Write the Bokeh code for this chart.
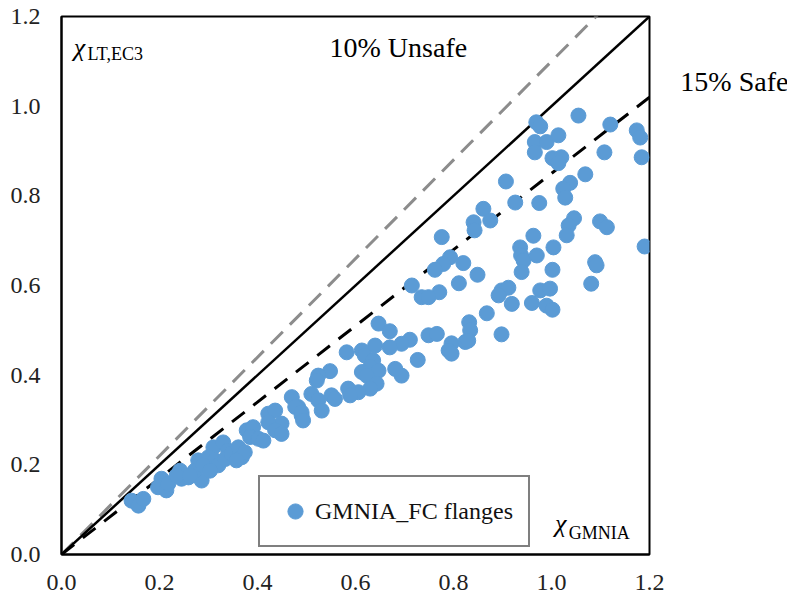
from bokeh.plotting import figure
from bokeh.models import Range1d, FixedTicker, Label, Legend, LegendItem, PrintfTickFormatter
from bokeh.embed import file_html
from bokeh.resources import INLINE

# ---- data ----
chi_gmnia = [
    0.969, 0.977, 1.055, 1.120, 1.174, 1.181, 1.184, 0.966, 0.990, 1.014,
    0.966, 1.002, 1.020, 1.014, 1.108, 1.069, 1.038, 1.024, 1.028, 0.907,
    0.926, 0.975, 0.861, 0.875, 0.841, 0.843, 1.046, 1.035, 1.031, 1.099,
    1.113, 0.963, 1.190, 0.776, 0.793, 0.779, 0.762, 0.820, 0.849, 0.811,
    0.936, 0.938, 0.943, 0.970, 1.004, 0.939, 1.002, 0.715, 0.771, 0.898,
    0.912, 0.892, 1.081, 1.089, 1.092, 0.977, 0.997, 0.735, 0.749, 0.919,
    0.960, 0.990, 1.002, 0.868, 0.832, 0.834, 0.898, 0.749, 0.766, 0.711,
    0.694, 0.796, 0.790, 0.824, 0.830, 0.727, 0.694, 0.796,
    0.647, 0.670,
    0.670, 0.640, 0.582, 0.613, 0.619, 0.636, 0.630, 0.647, 0.613, 0.623,
    0.681, 0.643, 0.630, 0.606, 0.585, 0.589, 0.551, 0.558, 0.548, 0.524,
    0.521, 0.510, 0.524, 0.531, 0.483, 0.490,
    0.143, 0.157, 0.167, 0.204, 0.197, 0.214, 0.218, 0.242, 0.245, 0.259,
    0.235, 0.279, 0.286, 0.272, 0.262, 0.310, 0.300, 0.313, 0.320, 0.289,
    0.303, 0.330, 0.340, 0.334, 0.347, 0.361, 0.368, 0.374, 0.357, 0.378,
    0.391, 0.385, 0.402, 0.412, 0.422, 0.436, 0.449, 0.422, 0.436, 0.449,
    0.470, 0.477, 0.490, 0.493,
]
chi_ec3 = [
    0.964, 0.955, 0.979, 0.959, 0.946, 0.930, 0.886, 0.920, 0.920, 0.935,
    0.897, 0.884, 0.886, 0.873, 0.897, 0.848, 0.829, 0.816, 0.796, 0.832,
    0.785, 0.784, 0.771, 0.745, 0.741, 0.723, 0.750, 0.734, 0.712, 0.743,
    0.730, 0.711, 0.687, 0.708, 0.663, 0.648, 0.635, 0.650, 0.624, 0.605,
    0.685, 0.667, 0.656, 0.667, 0.685, 0.630, 0.635, 0.600, 0.585, 0.589,
    0.595, 0.578, 0.604, 0.652, 0.645, 0.589, 0.593, 0.574, 0.574, 0.559,
    0.561, 0.555, 0.546, 0.538, 0.518, 0.500, 0.491, 0.489, 0.492, 0.479,
    0.470, 0.471, 0.455, 0.474, 0.477, 0.434, 0.399, 0.448,
    0.515, 0.498,
    0.462, 0.466, 0.451, 0.455, 0.444, 0.433, 0.418, 0.410, 0.407, 0.399,
    0.414, 0.381, 0.370, 0.362, 0.370, 0.355, 0.355, 0.347, 0.409, 0.399,
    0.388, 0.358, 0.344, 0.321, 0.329, 0.310,
    0.120, 0.109, 0.124, 0.169, 0.150, 0.143, 0.158, 0.187, 0.169, 0.172,
    0.176, 0.210, 0.165, 0.187, 0.176, 0.239, 0.217, 0.210, 0.199, 0.199,
    0.187, 0.250, 0.232, 0.213, 0.225, 0.239, 0.217, 0.228, 0.210, 0.277,
    0.284, 0.262, 0.258, 0.254, 0.314, 0.321, 0.292, 0.295, 0.277, 0.269,
    0.351, 0.329, 0.317, 0.299,
]
series_name = "GMNIA_FC flanges"

line_x = [0.0, 1.2]
ratio_equal = 1.0
ratio_unsafe = 1.10
ratio_safe = 0.85

tick_values = [0.0, 0.2, 0.4, 0.6, 0.8, 1.0, 1.2]
tick_labels = ["0.0", "0.2", "0.4", "0.6", "0.8", "1.0", "1.2"]

FONT = "Liberation Serif, Times New Roman, Times, DejaVu Serif, serif"
BLUE = "#5B9BD5"

p = figure(
    frame_width=588, frame_height=538,
    min_border_left=61, min_border_top=16, min_border_right=138, min_border_bottom=45,
    x_range=Range1d(0, 1.2), y_range=Range1d(0, 1.2),
    output_backend="svg", toolbar_location=None,
)
p.grid.visible = False
p.background_fill_color = "white"
p.border_fill_color = "white"
p.outline_line_color = "black"
p.outline_line_width = 2
p.outline_line_alpha = 1.0

for ax in (p.xaxis[0], p.yaxis[0]):
    ax.ticker = FixedTicker(ticks=tick_values)
    ax.formatter = PrintfTickFormatter(format="%.1f")
    ax.major_label_overrides = {v: l for v, l in zip(tick_values, tick_labels)}
    ax.major_tick_line_color = None
    ax.minor_tick_line_color = None
    ax.axis_line_color = "black"
    ax.axis_line_width = 2
    ax.major_label_text_font = FONT
    ax.major_label_text_font_size = "24px"
    ax.major_label_text_color = "#222222"
p.xaxis[0].major_label_standoff = 14
p.yaxis[0].major_label_standoff = 15

# reference lines
p.line(line_x, [ratio_unsafe * v for v in line_x], line_color="#8C8C8C", line_width=3, line_dash="17 10")
p.line(line_x, [ratio_equal * v for v in line_x], line_color="black", line_width=2.5)
p.line(line_x, [ratio_safe * v for v in line_x], line_color="black", line_width=3, line_dash="16 11")

sc = p.scatter(chi_gmnia, chi_ec3, size=15, fill_color=BLUE, line_color=BLUE, marker="circle")

legend = Legend(items=[LegendItem(label=series_name, renderers=[sc])],
                location=(197, 7))
legend.label_text_font = FONT
legend.label_text_font_size = "24px"
legend.label_text_color = "#111111"
legend.border_line_color = "black"
legend.border_line_width = 2
legend.background_fill_color = "white"
legend.background_fill_alpha = 1.0
legend.padding = 15
legend.margin = 0
legend.glyph_width = 40
legend.glyph_height = 38
legend.label_standoff = 0
legend.label_height = 20
p.add_layout(legend, "center")

def lab(x, y, text, size, style="normal", place="center"):
    p.add_layout(Label(x=x, y=y, text=text, text_font=FONT, text_font_size=size,
                       text_font_style=style, text_color="black",
                       text_baseline="middle", text_align="left"), place)

lab(0.025, 1.131, "χ", "26px", "italic")
lab(0.053, 1.116, "LT,EC3", "18px")
lab(1.007, 0.069, "χ", "26px", "italic")
lab(1.035, 0.049, "GMNIA", "18px")
lab(0.547, 1.131, "10% Unsafe", "28px")
lab(1.263, 1.056, "15% Safe", "28px", place="right")

open("out.html", "w").write(file_html(p, INLINE))
